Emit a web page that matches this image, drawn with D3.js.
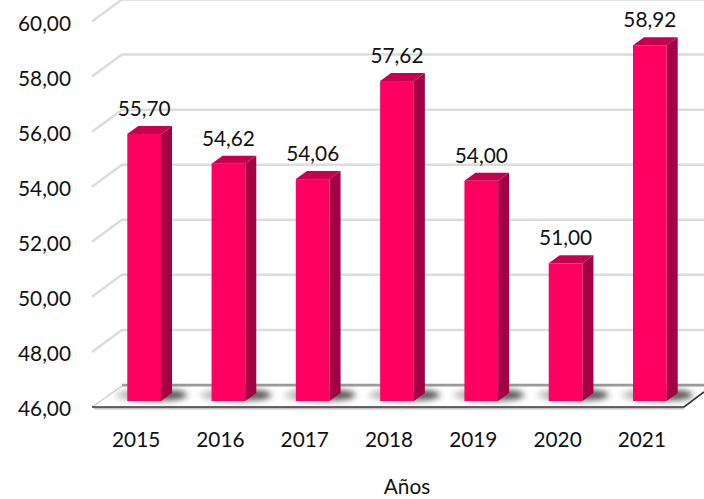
<!DOCTYPE html>
<html>
<head>
<meta charset="utf-8">
<script src="https://cdnjs.cloudflare.com/ajax/libs/d3/7.8.5/d3.min.js"></script>
<style>
    html, body { margin: 0; padding: 0; background: #fff; }
    svg { display: block; }
    text { font-family: Lato, "Open Sans", sans-serif; fill: #111; }
</style>
</head>
<body>
<div id="chart"></div>
<script>
const years = ["2015", "2016", "2017", "2018", "2019", "2020", "2021"];
const values = [55.70, 54.62, 54.06, 57.62, 54.00, 51.00, 58.92];
const yTicks = [46, 48, 50, 52, 54, 56, 58, 60];
const axisTitle = "Años";

const width = 704, height = 499;

// fake 3d: how far the back wall sits from the front plane
const depth = {"x": 30, "y": -22};
const barDepth = {"x": 11, "y": -8};
const floorGap = 6;
const fontSize = "20.8px";

const svg = d3.select("#chart").append("svg")
    .attr("width", width)
    .attr("height", height);

const comma = d3.formatLocale({
    "decimal": ",", "thousands": ".", "grouping": [3], "currency": ["", ""]
}).format(".2f");

const x = d3.scaleBand()
    .domain(years)
    .range([102, 692])
    .paddingInner(0.6)
    .paddingOuter(0.3);

const y = d3.scaleLinear()
    .domain([46, 60])
    .range([401, 15.5]);

const defs = svg.append("defs");
defs.append("filter")
    .attr("id", "blur")
    .attr("x", "-30%").attr("width", "160%")
    .attr("y", "-80%").attr("height", "260%")
    .append("feGaussianBlur")
    .attr("stdDeviation", 3);

const shade = defs.append("linearGradient").attr("id", "shade");
shade.append("stop").attr("offset", "0%").attr("stop-color", "#ccc");
shade.append("stop").attr("offset", "100%").attr("stop-color", "#333");

const frontLeft = 92, frontRight = 684;

// gridlines
const grid = svg.append("g");
grid.selectAll("path.grid")
    .data(yTicks.slice(1))
    .enter()
    .append("path")
    .attr("class", "grid")
    .attr("d", d => {
        let fy = y(d) + floorGap;
        return "M" + frontLeft + "," + fy +
            "L" + (frontLeft + depth.x) + "," + (fy + depth.y) +
            "H" + width;
    })
    .style("fill", "none")
    .style("stroke", "#dcdcdc")
    .style("stroke-width", 2.5);

// floor
let floorY = y(46) + floorGap;
svg.append("path")
    .attr("d", "M" + frontLeft + "," + floorY +
        "L" + (frontLeft + depth.x) + "," + (floorY + depth.y + 1) +
        "H" + width)
    .style("fill", "none")
    .style("stroke", "#d0d0d0")
    .style("stroke-width", 1.5);
svg.append("path")
    .attr("d", "M" + (frontLeft + depth.x) + "," + (floorY + depth.y) + "H" + width)
    .style("stroke", "#9a9a9a")
    .style("stroke-width", 2.5);
svg.append("path")
    .attr("d", "M" + (frontLeft + 2) + "," + (floorY + 1.5) + "H" + frontRight)
    .style("stroke", "#c4c4c4")
    .style("stroke-width", 2);
svg.append("path")
    .attr("d", "M" + frontLeft + "," + floorY + "H" + frontRight + "L" + width + "," + (floorY - 15))
    .style("fill", "none")
    .style("stroke", "#333")
    .style("stroke-width", 1.6);

// shadows on the floor
svg.append("g").selectAll("ellipse")
    .data(years)
    .enter()
    .append("ellipse")
    .attr("cx", d => x(d) + x.bandwidth() / 2 + 7)
    .attr("cy", y(46) - 6)
    .attr("rx", x.bandwidth() / 2 + 19)
    .attr("ry", 6)
    .attr("filter", "url(#blur)")
    .style("fill", "url(#shade)");

// bars
const bars = svg.append("g").selectAll("g.bar")
    .data(years.map((d, i) => ({"year": d, "value": values[i]})))
    .enter()
    .append("g")
    .attr("class", "bar");

// side face
bars.append("path")
    .attr("d", d => {
        let r = x(d.year) + x.bandwidth();
        return "M" + r + "," + y(d.value) +
            "l" + barDepth.x + "," + barDepth.y +
            "V" + (y(46) + barDepth.y) +
            "L" + r + "," + y(46) + "Z";
    })
    .style("fill", "#a30046");

// top face
bars.append("path")
    .attr("d", d => {
        let l = x(d.year);
        return "M" + l + "," + y(d.value) +
            "l" + barDepth.x + "," + barDepth.y +
            "h" + x.bandwidth() +
            "l" + (-barDepth.x) + "," + (-barDepth.y) + "Z";
    })
    .style("fill", "#c4004f");

// front face
bars.append("rect")
    .attr("x", d => x(d.year))
    .attr("y", d => y(d.value))
    .attr("width", x.bandwidth())
    .attr("height", d => y(46) - y(d.value))
    .style("fill", "#ff0062");

bars.append("text")
    .attr("x", d => x(d.year) + x.bandwidth() / 2)
    .attr("y", d => y(d.value) - 18)
    .attr("text-anchor", "middle")
    .style("font-size", fontSize)
    .text(d => comma(d.value));

// axes, labels only
const yAxis = svg.append("g")
    .attr("transform", "translate(76," + (floorGap + 2) + ")")
    .call(d3.axisLeft(y).tickValues(yTicks).tickFormat(comma).tickSize(0).tickPadding(5));
yAxis.select(".domain").remove();
yAxis.selectAll("text")
    .style("font-family", "Lato, sans-serif")
    .style("font-size", fontSize);

const xAxis = svg.append("g")
    .attr("transform", "translate(-8,432)")
    .call(d3.axisBottom(x).tickSize(0).tickPadding(0));
xAxis.select(".domain").remove();
xAxis.selectAll("text")
    .style("font-family", "Lato, sans-serif")
    .style("font-size", fontSize);

svg.append("text")
    .attr("x", 407)
    .attr("y", 494)
    .attr("text-anchor", "middle")
    .style("font-size", fontSize)
    .text(axisTitle);
</script>
</body>
</html>
